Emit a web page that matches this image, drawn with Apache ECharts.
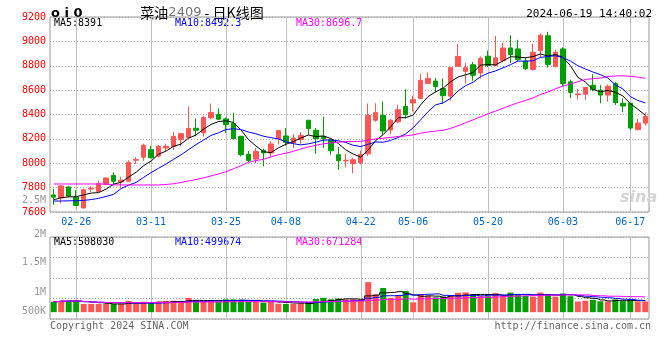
<!DOCTYPE html>
<html><head><meta charset="utf-8">
<script src="https://cdn.jsdelivr.net/npm/echarts@6/dist/echarts.min.js"></script>
<style>html,body{margin:0;padding:0;background:#fff}#c{width:660px;height:360px}</style>
</head><body><div id="c"></div>
<script>
const dates = ['02-21','02-22','02-23','02-26','02-27','02-28','02-29','03-01','03-04','03-05','03-06','03-07','03-08','03-11','03-12','03-13','03-14','03-15','03-18','03-19','03-20','03-21','03-22','03-25','03-26','03-27','03-28','03-29','04-01','04-02','04-03','04-08','04-09','04-10','04-11','04-12','04-15','04-16','04-17','04-18','04-19','04-22','04-23','04-24','04-25','04-26','04-29','04-30','05-06','05-07','05-08','05-09','05-10','05-13','05-14','05-15','05-16','05-17','05-20','05-21','05-22','05-23','05-24','05-27','05-28','05-29','05-30','05-31','06-03','06-04','06-05','06-06','06-07','06-11','06-12','06-13','06-14','06-17','06-18','06-19'];
const open  = [7740,7714,7806,7722,7633,7788,7769,7825,7900,7847,7853,8025,8050,8111,8059,8125,8139,8194,8210,8287,8249,8373,8400,8364,8326,8221,8073,8034,8106,8084,8199,8224,8166,8194,8353,8271,8221,8194,8070,8020,7997,8005,8077,8353,8393,8273,8340,8466,8495,8532,8655,8674,8613,8551,8795,8754,8808,8741,8878,8803,8843,8946,8938,8838,8770,8924,9046,8795,8938,8668,8562,8567,8640,8600,8559,8654,8492,8492,8276,8330];
const close = [7722,7814,7731,7653,7783,7795,7833,7878,7853,7861,8008,8030,8147,8045,8139,8139,8221,8243,8285,8271,8375,8416,8362,8318,8202,8070,8023,8097,8084,8158,8268,8172,8207,8227,8285,8202,8200,8103,8021,8025,8029,8072,8393,8415,8265,8353,8439,8399,8522,8680,8696,8629,8554,8784,8876,8784,8722,8862,8803,8865,8946,8892,8851,8776,8911,9051,8811,8911,8654,8581,8568,8622,8605,8559,8632,8497,8470,8289,8330,8384];
const low   = [7660,7672,7728,7650,7630,7764,7764,7820,7820,7797,7850,7995,8020,8040,8050,8100,8110,8139,8205,8221,8220,8360,8355,8250,8200,8055,8010,8000,7975,8050,8155,8145,8125,8160,8235,8078,8125,8070,7946,7965,7917,7990,8060,8340,8233,8240,8330,8366,8425,8530,8650,8580,8487,8513,8790,8654,8676,8695,8790,8798,8830,8822,8835,8765,8760,8870,8784,8784,8627,8535,8524,8519,8590,8492,8505,8478,8419,8270,8270,8308];
const high  = [7790,7818,7808,7778,7792,7811,7856,7885,7925,7889,8025,8050,8161,8141,8150,8160,8257,8250,8465,8367,8390,8490,8450,8375,8414,8225,8100,8125,8120,8180,8270,8290,8240,8255,8355,8290,8381,8200,8133,8078,8045,8104,8490,8492,8506,8365,8480,8607,8554,8736,8746,8700,8696,8790,8978,8824,8830,8876,8924,9046,8990,9051,9013,8870,8978,9065,9078,8930,8951,8686,8608,8625,8730,8640,8646,8668,8532,8495,8362,8416];
const volume = [460000,500000,500000,500000,360000,360000,360000,360000,360000,370000,500000,360000,460000,420000,460000,490000,500000,460000,630000,500000,460000,500000,460000,560000,560000,540000,460000,460000,420000,500000,370000,360000,360000,390000,420000,580000,630000,560000,600000,560000,560000,530000,1320000,780000,1060000,630000,720000,930000,430000,780000,720000,650000,680000,720000,850000,870000,760000,700000,700000,840000,720000,860000,760000,720000,680000,860000,800000,680000,820000,700000,470000,500000,540000,480000,470000,560000,480000,560000,470000,470000];
// MA values before a full window is available
const ma5Head  = [7700,7718,7724,7725];
const ma10Head = [7690,7690,7692,7692,7695,7702,7712,7728,7745];
const ma30Head = [7830,7830,7830,7830,7830,7830,7830,7830,7822,7822,7822,7822,7822,7822,7822,7826,7832,7842,7855,7866,7880,7896,7912,7930,7955,7980,8008,8022,8032];
const labelDates = ['02-26','03-11','03-25','04-08','04-22','05-06','05-20','06-03','06-17'];
const priceMin = 7600, priceMax = 9200, priceStep = 200;
const volTickValues = [2000000, 1500000, 1000000, 500000];
const volTickLabels = ['2M', '1.5M', '1M', '500K'];
const volTickShift  = [-3, 5, 14, 13];     // label offsets seen in the picture (px)
const volLabelMax = 2000000, volLabelStep = 500000;
const volBarMin = -300000, volBarMax = 3300000;
const maLegend = ['MA5:8391','MA10:8492.3','MA30:8696.7'];
const volLegend = ['MA5:508030','MA10:499674','MA30:671284'];
const titleMain = '菜油', titleCode = '2409', titleTail = ' - 日K线图';
const stamp = '2024-06-19 14:40:02';

const RED = '#ff5555', GREEN = '#009f00';
const MONO = '"DejaVu Sans Mono", monospace';

function movingAvg(src, n, head) {
  return src.map((_, i) => {
    if (head && i < head.length) return head[i];
    const from = Math.max(0, i - n + 1);
    let s = 0; for (let k = from; k <= i; k++) s += src[k];
    return +(s / (i - from + 1)).toFixed(1);
  });
}
const ma5 = movingAvg(close, 5, ma5Head);
const ma10 = movingAvg(close, 10, ma10Head);
const ma30 = movingAvg(close, 30, ma30Head);
const vma5 = movingAvg(volume, 5), vma10 = movingAvg(volume, 10), vma30 = movingAvg(volume, 30);

const kData = dates.map((d, i) => [open[i], close[i], low[i], high[i]]);
const volData = volume.map((v, i) => ({ value: v, itemStyle: { color: close[i] > open[i] ? RED : GREEN } }));
const gridDateIdx = labelDates.map(d => dates.indexOf(d));

const dotted = { color: '#a8a8a8', width: 1, type: [1, 2] };
const isLabelDate = (i, v) => labelDates.indexOf(v) >= 0;

// vertical gridlines at the labelled dates, placed by the category axis
function vGridItem(params, api) {
  const x = Math.round(api.coord([api.value(0), api.value(1)])[0]) + 0.5;
  const cs = params.coordSys;
  return { type: 'line', silent: true,
    shape: { x1: x, y1: cs.y, x2: x, y2: cs.y + cs.height },
    style: { stroke: '#c0c0c0', lineWidth: 1, fill: null } };
}

const volRich = {};
volTickLabels.forEach((t, i) => {
  const d = volTickShift[i];
  volRich['s' + i] = { fontFamily: MONO, fontSize: 10, color: '#999',
    padding: d >= 0 ? [2 * d, 0, 0, 0] : [0, 0, -2 * d, 0] };
});

const chart = echarts.init(document.getElementById('c'), null, { renderer: 'canvas' });
chart.setOption({
  animation: false,
  backgroundColor: '#fff',
  grid: [
    { left: 50, right: 11, top: 17, height: 195, show: true, borderColor: '#999', borderWidth: 1, backgroundColor: 'transparent' },
    { left: 50, right: 11, top: 237, height: 82, show: true, borderColor: '#999', borderWidth: 1, backgroundColor: 'transparent' }
  ],
  xAxis: [
    { type: 'category', data: dates, gridIndex: 0, boundaryGap: true,
      axisLine: { show: false }, axisTick: { show: false },
      axisLabel: { interval: isLabelDate, color: '#0066cc', fontFamily: MONO, fontSize: 10, margin: 5, hideOverlap: false },
      splitLine: { show: false } },
    { type: 'category', data: dates, gridIndex: 1, boundaryGap: true,
      axisLine: { show: false }, axisTick: { show: false }, axisLabel: { show: false }, splitLine: { show: false } }
  ],
  yAxis: [
    { type: 'value', gridIndex: 0, min: priceMin, max: priceMax, interval: priceStep,
      axisLine: { show: false }, axisTick: { show: false },
      axisLabel: { color: '#ff0000', fontFamily: MONO, fontSize: 10, margin: 4, showMinLabel: true, showMaxLabel: true, formatter: v => String(v) },
      splitLine: { show: true, lineStyle: dotted } },
    { type: 'value', gridIndex: 1, min: 0, max: volLabelMax, interval: volLabelStep,
      axisLine: { show: false }, axisTick: { show: false },
      axisLabel: { margin: 4, showMaxLabel: true, rich: volRich,
        formatter: v => { const i = volTickValues.indexOf(v); return i < 0 ? '' : '{s' + i + '|' + volTickLabels[i] + '}'; } },
      splitLine: { show: true, lineStyle: dotted } },
    { type: 'value', gridIndex: 1, min: volBarMin, max: volBarMax, show: false, splitLine: { show: false } }
  ],
  series: [
    { type: 'custom', name: 'vgrid0', xAxisIndex: 0, yAxisIndex: 0, data: gridDateIdx.map(i => [i, priceMin]), renderItem: vGridItem, z: 1, silent: true, clip: false },
    { type: 'custom', name: 'vgrid1', xAxisIndex: 1, yAxisIndex: 2, data: gridDateIdx.map(i => [i, 0]), renderItem: vGridItem, z: 1, silent: true, clip: false },
    { type: 'candlestick', name: 'K', xAxisIndex: 0, yAxisIndex: 0, data: kData, barWidth: 5,
      itemStyle: { color: RED, color0: GREEN, borderColor: RED, borderColor0: GREEN, borderWidth: 1 }, z: 2 },
    { type: 'line', name: 'MA5', xAxisIndex: 0, yAxisIndex: 0, data: ma5, showSymbol: false, lineStyle: { color: '#000', width: 1 }, z: 3 },
    { type: 'line', name: 'MA10', xAxisIndex: 0, yAxisIndex: 0, data: ma10, showSymbol: false, lineStyle: { color: '#0000ff', width: 1 }, z: 3 },
    { type: 'line', name: 'MA30', xAxisIndex: 0, yAxisIndex: 0, data: ma30, showSymbol: false, lineStyle: { color: '#ff00ff', width: 1 }, z: 3 },
    { type: 'bar', name: 'VOL', xAxisIndex: 1, yAxisIndex: 2, data: volData, barWidth: 6, z: 2 },
    { type: 'line', name: 'VMA5', xAxisIndex: 1, yAxisIndex: 2, data: vma5, step: 'middle', showSymbol: false, lineStyle: { color: '#000', width: 1 }, z: 3 },
    { type: 'line', name: 'VMA10', xAxisIndex: 1, yAxisIndex: 2, data: vma10, step: 'middle', showSymbol: false, lineStyle: { color: '#0000ff', width: 1 }, z: 3 },
    { type: 'line', name: 'VMA30', xAxisIndex: 1, yAxisIndex: 2, data: vma30, step: 'middle', showSymbol: false, lineStyle: { color: '#ff00ff', width: 1 }, z: 3 }
  ],
  graphic: [
    { type: 'text', x: 51, y: 14, style: { text: 'o i 0', font: 'bold 13px "DejaVu Sans"', fill: '#000', textVerticalAlign: 'middle' } },
    { type: 'text', x: 202, y: 13, style: { text: '{a|' + titleMain + '}{b|' + titleCode + '}{a|' + titleTail + '}', textAlign: 'center', textVerticalAlign: 'middle',
        rich: { a: { fontFamily: '"Noto Sans CJK SC"', fontSize: 14, fill: '#000' }, b: { fontFamily: '"DejaVu Sans"', fontSize: 13, fill: '#777' } } } },
    { type: 'text', x: 652, y: 14, style: { text: stamp, font: '11px ' + MONO, fill: '#000', textAlign: 'right', textVerticalAlign: 'middle' } },
    { type: 'text', x: 54, y: 23.5, style: { text: maLegend[0], font: '10px ' + MONO, fill: '#000', textVerticalAlign: 'middle' } },
    { type: 'text', x: 175, y: 23.5, style: { text: maLegend[1], font: '10px ' + MONO, fill: '#0000ff', textVerticalAlign: 'middle' } },
    { type: 'text', x: 296, y: 23.5, style: { text: maLegend[2], font: '10px ' + MONO, fill: '#ff00ff', textVerticalAlign: 'middle' } },
    { type: 'text', x: 54, y: 242, style: { text: volLegend[0], font: '10px ' + MONO, fill: '#000', textVerticalAlign: 'middle' } },
    { type: 'text', x: 175, y: 242, style: { text: volLegend[1], font: '10px ' + MONO, fill: '#0000ff', textVerticalAlign: 'middle' } },
    { type: 'text', x: 296, y: 242, style: { text: volLegend[2], font: '10px ' + MONO, fill: '#ff00ff', textVerticalAlign: 'middle' } },
    { type: 'text', x: 46, y: 200, style: { text: '2.5M', font: '10px ' + MONO, fill: '#999', textAlign: 'right', textVerticalAlign: 'middle' } },
    { type: 'text', x: 620, y: 198, style: { text: 'sina', font: 'italic bold 16px "DejaVu Sans"', fill: '#d4d4d4', textVerticalAlign: 'middle' } },
    { type: 'text', x: 50, y: 326, style: { text: 'Copyright 2024 SINA.COM', font: '10px ' + MONO, fill: '#666', textVerticalAlign: 'middle' } },
    { type: 'text', x: 651, y: 326, style: { text: 'http://finance.sina.com.cn', font: '10px ' + MONO, fill: '#666', textAlign: 'right', textVerticalAlign: 'middle' } }
  ]
});
</script></body></html>
